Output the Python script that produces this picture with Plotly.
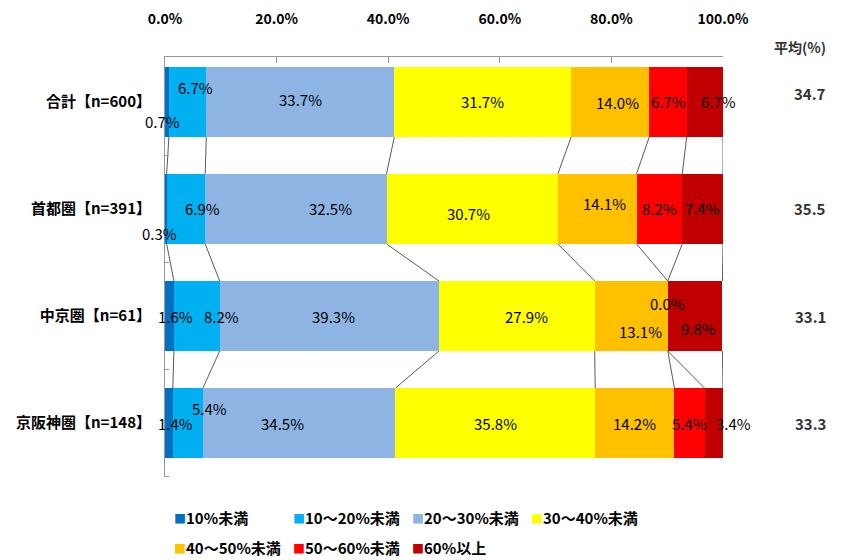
import plotly.graph_objects as go

categories = ["合計【n=600】", "首都圏【n=391】", "中京圏【n=61】", "京阪神圏【n=148】"]
series_names = ["10%未満", "10～20%未満", "20～30%未満", "30～40%未満",
                "40～50%未満", "50～60%未満", "60%以上"]
values = [
    [0.7, 0.3, 1.6, 1.4],
    [6.7, 6.9, 8.2, 5.4],
    [33.7, 32.5, 39.3, 34.5],
    [31.7, 30.7, 27.9, 35.8],
    [14.0, 14.1, 13.1, 14.2],
    [6.7, 8.2, 0.0, 5.4],
    [6.7, 7.4, 9.8, 3.4],
]
averages = [34.7, 35.5, 33.1, 33.3]
tick_vals = [0, 20, 40, 60, 80, 100]

colors = ["#0070C0", "#00B0F0", "#8DB4E2", "#FFFF00", "#FFC000", "#FF0000", "#C00000"]
FONT = "Noto Sans CJK JP"
BAR_W = 0.654

# label offsets (dx, dy) in screen px (dy positive = down) for (series, row)
label_offsets = {
    (0, 0): (-4, 20), (1, 0): (8, -14), (2, 0): (0, -2), (4, 0): (7, 1), (6, 0): (13, 0),
    (0, 1): (-6, 25), (1, 1): (17, 0), (2, 1): (35, 0), (3, 1): (-4, 5), (4, 1): (7, -5),
    (0, 2): (6, 0), (1, 2): (25, 0), (2, 2): (4, 0), (3, 2): (10, 0), (4, 2): (9, 15),
    (5, 2): (0, -13), (6, 2): (3, 12),
    (0, 3): (7, 0), (1, 3): (22, -15), (2, 3): (-17, 0), (6, 3): (19, 0),
}

fig = go.Figure()
ypos = list(range(len(categories)))
for i, (name, vals) in enumerate(zip(series_names, values)):
    fig.add_trace(go.Bar(
        name=name, y=ypos, x=vals, orientation="h", width=BAR_W,
        marker=dict(color=colors[i], line=dict(width=0)),
        hoverinfo="x+name", showlegend=False,
    ))

# cumulative boundaries
n_rows = len(categories)
n_ser = len(series_names)
cum = []
for r in range(n_rows):
    c, acc = [], 0.0
    for s in range(n_ser):
        acc += values[s][r]
        c.append(acc)
    cum.append(c)

# data labels
for s in range(n_ser):
    for r in range(n_rows):
        v = values[s][r]
        mid = cum[r][s] - v / 2
        dx, dy = label_offsets.get((s, r), (0, 0))
        fig.add_annotation(x=mid, y=r, text=f"{v:.1f}%", showarrow=False,
                           xanchor="center", yanchor="middle",
                           xshift=dx, yshift=-dy,
                           font=dict(family=FONT, size=15, color="#000"))

# series lines
for r in range(n_rows - 1):
    for s in range(n_ser):
        fig.add_shape(type="line", x0=min(cum[r][s], 100), y0=r + BAR_W / 2,
                      x1=min(cum[r + 1][s], 100), y1=r + 1 - BAR_W / 2,
                      line=dict(color="#595959", width=1), layer="below")

# averages column
fig.add_annotation(x=1.138, xref="paper", y=1.024, yref="paper", text="平均(%)",
                   showarrow=False, xanchor="center", yanchor="middle",
                   font=dict(family=FONT, size=14, color="#333", weight="bold"))
for r, a in enumerate(averages):
    fig.add_annotation(x=1.156, xref="paper", y=r, yshift=8 if r == 0 else 0,
                       text=f"{a:.1f}", showarrow=False,
                       xanchor="center", yanchor="middle",
                       font=dict(family=FONT, size=15, color="#333", weight="bold"))

# legend (manual, two rows)
for i, (name, col) in enumerate(zip(series_names, colors)):
    row, colidx = divmod(i, 4)
    fig.add_annotation(
        x=(7 + 119 * colidx) / 558, xref="paper",
        y=-(40 + 30 * row) / 420, yref="paper",
        xanchor="left", yanchor="middle", showarrow=False,
        text=f"<span style='color:{col};font-size:12px'>■</span>{name}",
        font=dict(family=FONT, size=15, color="#000", weight="bold"),
    )

# page body has an 8px margin: compensate so the plot area sits where the reference has it
fig.update_layout(
    barmode="stack",
    width=834, height=552,
    margin=dict(l=157, r=119, t=49, b=83, autoexpand=False),
    plot_bgcolor="white", paper_bgcolor="white",
    font=dict(family=FONT, size=13, color="#000"),
    showlegend=False,
    xaxis=dict(side="top", range=[0, 100], tickvals=tick_vals,
               ticktext=[f"{t:.1f}%" for t in tick_vals],
               showgrid=False, zeroline=False, showline=True, linecolor="#999",
               ticks="inside", ticklen=6, tickcolor="#999", ticklabelstandoff=26,
               tickfont=dict(family=FONT, size=14, color="#000", weight="bold")),
    yaxis=dict(range=[3.503, -0.418], tickvals=ypos, ticktext=categories,
               showgrid=False, zeroline=False, showline=True, linecolor="#999",
               ticks="", ticklabelstandoff=10,
               minor=dict(tickvals=[0.5, 1.5, 2.5, 3.5], ticks="inside",
                          ticklen=4, tickcolor="#999"),
               tickfont=dict(family=FONT, size=15, color="#000", weight="bold")),
)

fig.write_html("out.html")
